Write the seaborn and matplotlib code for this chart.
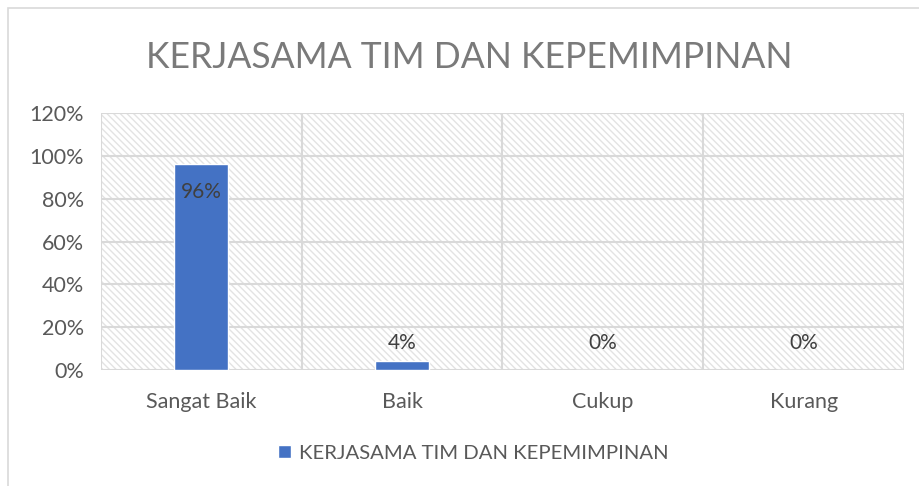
import matplotlib
matplotlib.use("Agg")
import matplotlib.pyplot as plt
import seaborn as sns
import pandas as pd
from matplotlib.patches import Rectangle

categories = ["Sangat Baik", "Baik", "Cukup", "Kurang"]
values = [96, 4, 0, 0]
series_name = "KERJASAMA TIM DAN KEPEMIMPINAN"
title = "KERJASAMA TIM DAN KEPEMIMPINAN"
yticks = [0, 20, 40, 60, 80, 100, 120]

sns.set_style("white")
plt.rcParams["font.family"] = ["Lato", "DejaVu Sans"]
plt.rcParams["hatch.linewidth"] = 1.0

df = pd.DataFrame({"kategori": categories, "nilai": values})

fig = plt.figure(figsize=(9.2, 4.86), dpi=100)
fig.patches.append(Rectangle((8 / 920, -0.1), 1.2, 1.1 - 8 / 486, transform=fig.transFigure,
                             facecolor="none", edgecolor="#d9d9d9", linewidth=1.2))
ax = fig.add_axes([101 / 920, 1 - 370 / 486, 803 / 920, 257 / 486])

# hatched plot background
ax.patch.set_facecolor("white")
bg = Rectangle((0, 0), 1, 1, transform=ax.transAxes, facecolor="white",
               edgecolor="#e3e3e3", hatch="\\\\\\\\\\", linewidth=0, zorder=0)
ax.add_patch(bg)

sns.barplot(data=df, x="kategori", y="nilai", color="#4472C4", width=0.27,
            saturation=1, ax=ax, zorder=3)

ax.set_ylim(0, 120)
ax.set_xlim(-0.5, len(categories) - 0.5)
ax.set_yticks(yticks)
ax.set_yticklabels([f"{t}%" for t in yticks])
ax.set_xlabel("")
ax.set_ylabel("")

for y in yticks:
    ax.axhline(y, color="#d9d9d9", linewidth=1.5, zorder=1)
for i in range(len(categories) + 1):
    ax.axvline(i - 0.5, color="#d9d9d9", linewidth=1.5, zorder=1)

for s in ax.spines.values():
    s.set_visible(False)

ax.tick_params(axis="both", length=0, labelsize=15.5, labelcolor="#595959")
ax.tick_params(axis="y", pad=12.5)
ax.tick_params(axis="x", pad=16)

for i, v in enumerate(values):
    ly = v - 13 if v > 50 else 12.6
    ax.text(i, ly, f"{v}%", ha="center", va="center", fontsize=15,
            color="#404040", zorder=4)

fig.text(469 / 920, 1 - 57 / 486, title, ha="center", va="center", fontsize=25.6,
         color="#7a7a7a")

handle = Rectangle((0, 0), 1, 1, facecolor="#4472C4")
fig.legend([handle], [series_name], loc="center", bbox_to_anchor=(473 / 920, 1 - 453 / 486),
           frameon=False, fontsize=14.6, handlelength=0.65, handleheight=0.65,
           handletextpad=0.4, labelcolor="#595959")

fig.savefig("out.png", dpi=100)
